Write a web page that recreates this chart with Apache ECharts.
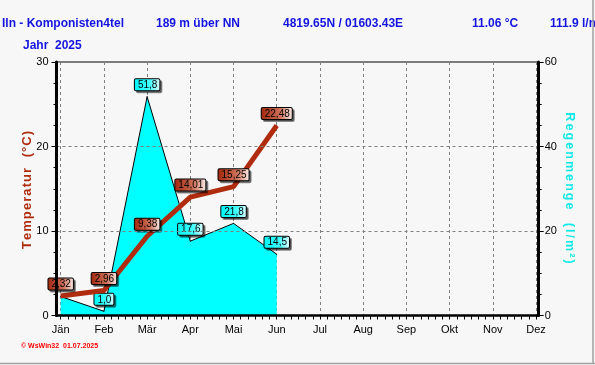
<!DOCTYPE html>
<html>
<head>
<meta charset="utf-8">
<script src="https://cdn.jsdelivr.net/npm/echarts@6/dist/echarts.min.js"></script>
<style>
html,body{margin:0;padding:0;background:#f7f7f7;}
#c{width:595px;height:365px;}
</style>
</head>
<body>
<div id="c"></div>
<script>
const months = ['Jän','Feb','Mär','Apr','Mai','Jun','Jul','Aug','Sep','Okt','Nov','Dez'];
const tempValues = [2.32, 2.96, 9.38, 14.01, 15.25, 22.48];
const rainValues = [4.5, 1.0, 51.8, 17.6, 21.8, 14.5];
const tempAxis = {min: 0, max: 30, interval: 10};
const rainAxis = {min: 0, max: 60, interval: 20};
const headerTexts = [
  {text: 'Iln - Komponisten4tel', x: 2, y: 24},
  {text: '189 m über NN', x: 156, y: 24},
  {text: '4819.65N / 01603.43E', x: 283, y: 24},
  {text: '11.06 °C', x: 472, y: 24},
  {text: '111.9 l/m²', x: 550, y: 24},
  {text: 'Jahr  2025', x: 23, y: 46}
];
const footerText = '© WsWin32  01.07.2025';
const tempTitle = 'Temperatur  (°C)';
const rainTitle = 'Regenmenge  (l/m²)';

const spaced = (s, sep) => s.split('').join(sep);
const fmt = (v, d) => v.toFixed(d).replace('.', ',');

const chart = echarts.init(document.getElementById('c'), null, {renderer: 'canvas'});
const blue = '#1414e0';
const red = '#b02c0e';
const cyan = '#00ffff';
const font = '"Liberation Sans", Arial, sans-serif';

const tempGrad = new echarts.graphic.LinearGradient(0, 0, 1, 0, [
  {offset: 0, color: '#a0260a'}, {offset: 0.6, color: '#cf7058'}, {offset: 1, color: '#fbefea'}
]);
const rainGrad = new echarts.graphic.LinearGradient(0, 0, 1, 0, [
  {offset: 0, color: '#00f4f4'}, {offset: 0.6, color: '#40ffff'}, {offset: 1, color: '#e8ffff'}
]);
const labelBase = {
  show: true, position: 'top', distance: 6, color: '#000', fontSize: 10, fontFamily: font,
  borderColor: '#000', borderWidth: 1, padding: [1, 2, 0, 3], borderRadius: 1,
  shadowColor: 'rgba(0,0,0,0.45)', shadowOffsetX: 2, shadowOffsetY: 2, shadowBlur: 0
};

const graphics = headerTexts.map(t => ({
  type: 'text', z: 100,
  style: {text: t.text, x: t.x, y: t.y, font: 'bold 12px ' + font, fill: blue,
          verticalAlign: 'middle', textVerticalAlign: 'middle'}
}));
graphics.push({
  type: 'text', z: 100,
  style: {text: footerText, x: 21, y: 346, font: 'bold 7px ' + font, fill: '#ff0000',
          verticalAlign: 'middle', textVerticalAlign: 'middle'}
});
graphics.push({
  type: 'text', z: 100, x: 27.5, y: 190, rotation: Math.PI / 2,
  style: {text: spaced(tempTitle, '\u200A'), x: 0, y: 0, font: 'bold 13px ' + font, fill: red,
          align: 'center', textAlign: 'center', verticalAlign: 'middle', textVerticalAlign: 'middle'}
});
graphics.push({
  type: 'text', z: 100, x: 569, y: 188, rotation: -Math.PI / 2,
  style: {text: spaced(rainTitle, '\u200A\u200A'), x: 0, y: 0, font: 'bold 12.5px ' + font, fill: '#10e8e8',
          align: 'center', textAlign: 'center', verticalAlign: 'middle', textVerticalAlign: 'middle'}
});
graphics.push({type: 'line', z: 100, shape: {x1: 0, y1: 363.5, x2: 595, y2: 363.5}, style: {stroke: '#a0a0a0', lineWidth: 1.5}});
graphics.push({type: 'line', z: 100, shape: {x1: 593, y1: 0, x2: 593, y2: 363.5}, style: {stroke: '#a0a0a0', lineWidth: 1.5}});

const option = {
  backgroundColor: '#f7f7f7',
  animation: false,
  grid: [
    {left: 56.5, right: 56.3, top: 62, bottom: 49.5, show: true, borderColor: '#000', borderWidth: 1, backgroundColor: 'transparent'},
    {left: 60.7, right: 59, top: 62, bottom: 49.5}
  ],
  xAxis: [
    {gridIndex: 0, type: 'value', min: 0, max: 1, z: 10,
     axisLine: {show: true, onZero: false, lineStyle: {color: '#000', width: 2.5}},
     axisTick: {show: false}, axisLabel: {show: false}, splitLine: {show: false}},
    {gridIndex: 1, type: 'value', min: 0, max: months.length - 1, interval: 1,
     axisLine: {show: false, onZero: false},
     axisTick: {show: true, length: 4, lineStyle: {color: '#000'}},
     minorTick: {show: true, splitNumber: 6, length: 4, lineStyle: {color: '#000'}},
     axisLabel: {formatter: v => months[v] || '', color: '#000', fontSize: 11, fontFamily: font, margin: 9},
     splitLine: {show: true, lineStyle: {color: '#808080', type: [3, 3], width: 1}}}
  ],
  yAxis: [
    {gridIndex: 0, type: 'value', position: 'left', min: tempAxis.min, max: tempAxis.max, interval: tempAxis.interval, z: 10,
     axisLine: {show: true, onZero: false, lineStyle: {color: '#000', width: 3}},
     axisTick: {show: true, length: 5, lineStyle: {color: '#000'}},
     minorTick: {show: true, splitNumber: 4, length: 3, lineStyle: {color: '#000'}},
     axisLabel: {color: '#000', fontSize: 11, fontFamily: font, margin: 8},
     splitLine: {show: true, lineStyle: {color: '#808080', type: [3, 3], width: 1}}},
    {gridIndex: 0, type: 'value', position: 'right', min: rainAxis.min, max: rainAxis.max, interval: rainAxis.interval, z: 10,
     axisLine: {show: true, onZero: false, lineStyle: {color: '#000', width: 3}},
     axisTick: {show: true, length: 5, lineStyle: {color: '#000'}},
     minorTick: {show: true, splitNumber: 4, length: 3, lineStyle: {color: '#000'}},
     axisLabel: {color: '#000', fontSize: 11, fontFamily: font, margin: 6},
     splitLine: {show: false}},
    {gridIndex: 1, type: 'value', min: tempAxis.min, max: tempAxis.max, show: false},
    {gridIndex: 1, type: 'value', min: rainAxis.min, max: rainAxis.max, show: false}
  ],
  series: [
    {
      type: 'line', xAxisIndex: 1, yAxisIndex: 3, z: 3,
      data: rainValues.map((v, i) => (i === 0 ? {value: [i, v], label: {show: false}} : {value: [i, v]})),
      symbol: 'circle', symbolSize: 1, showSymbol: true,
      itemStyle: {color: '#000'},
      lineStyle: {color: '#000', width: 1},
      areaStyle: {color: cyan, opacity: 1},
      label: Object.assign({}, labelBase, {backgroundColor: rainGrad, formatter: p => fmt(p.value[1], 1)})
    },
    {
      type: 'line', xAxisIndex: 1, yAxisIndex: 2, z: 4,
      data: tempValues.map((v, i) => [i, v]),
      symbol: 'circle', symbolSize: 1, showSymbol: true,
      itemStyle: {color: red},
      lineStyle: {color: red, width: 5},
      label: Object.assign({}, labelBase, {backgroundColor: tempGrad, formatter: p => fmt(p.value[1], 2)})
    }
  ],
  graphic: graphics
};
chart.setOption(option);
</script>
</body>
</html>
